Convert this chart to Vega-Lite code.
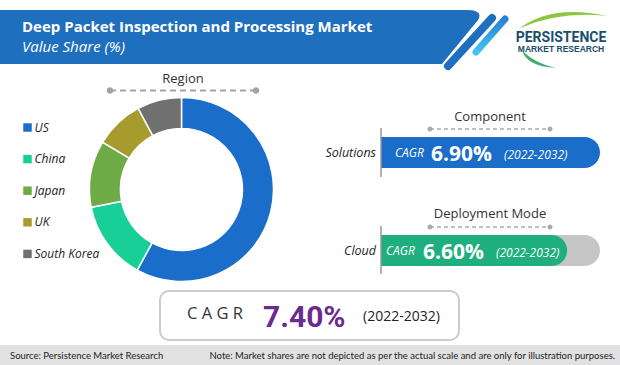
{
  "$schema": "https://vega.github.io/schema/vega-lite/v6.json",
  "width": 620,
  "height": 365,
  "autosize": {"type": "none"},
  "padding": 0,
  "background": "white",
  "config": {"view": {"stroke": null}},
  "datasets": {
    "overall": [{"label": "CAGR", "cagr": "7.40%", "period": "(2022-2032)"}],
    "region": [
      {"region": "US", "share": 58.0, "rank": 1},
      {"region": "China", "share": 13.9, "rank": 2},
      {"region": "Japan", "share": 11.7, "rank": 3},
      {"region": "UK", "share": 8.6, "rank": 4},
      {"region": "South Korea", "share": 7.8, "rank": 5}
    ],
    "segments": [
      {"segment": "Component", "name": "Solutions", "cagr": "6.90%", "period": "(2022-2032)", "share": 100},
      {"segment": "Deployment Mode", "name": "Cloud", "cagr": "6.60%", "period": "(2022-2032)", "share": 85}
    ]
  },
  "data": {"name": "overall"},
  "layer": [
    {"mark": {"type": "point", "shape": "M0,10H466Q484,10 478,20L442,64H0Z", "size": 4, "x": 0, "y": 0, "filled": true, "color": "#1f6fbf", "opacity": 1, "strokeWidth": 0}, "encoding": {}},
    {"mark": {"type": "point", "shape": "M492,18L448,66", "size": 4, "x": 0, "y": 0, "filled": false, "color": "#1f6fbf", "opacity": 1, "strokeWidth": 8, "strokeCap": "round"}, "encoding": {}},
    {"mark": {"type": "point", "shape": "M505,19L476,52", "size": 4, "x": 0, "y": 0, "filled": false, "opacity": 1, "strokeWidth": 7, "strokeCap": "round", "stroke": {"gradient": "linear", "x1": 0, "y1": 0, "x2": 0, "y2": 1, "stops": [{"offset": 0, "color": "#2683d6"}, {"offset": 1, "color": "#45c3ee"}]}}, "encoding": {}},
    {"mark": {"type": "text", "text": "Deep Packet Inspection and Processing Market", "x": 22, "y": 32, "align": "left", "baseline": "alphabetic", "font": "Open Sans", "fontWeight": "bold", "fontSize": 15, "color": "white"}, "encoding": {}},
    {"mark": {"type": "text", "text": "Value Share (%)", "x": 22, "y": 52, "align": "left", "baseline": "alphabetic", "font": "Open Sans", "fontStyle": "italic", "fontSize": 15, "color": "white"}, "encoding": {}},
    {"mark": {"type": "point", "shape": "M520,28Q552,4 607,16Q560,11 520,28Z", "size": 4, "x": 0, "y": 0, "filled": true, "color": "#8dc63f", "opacity": 1, "strokeWidth": 0}, "encoding": {}},
    {"mark": {"type": "point", "shape": "M522,50Q526,66 556,68Q532,62 522,50Z", "size": 4, "x": 0, "y": 0, "filled": true, "color": "#3fae6a", "opacity": 1, "strokeWidth": 0}, "encoding": {}},
    {"mark": {"type": "text", "text": "PERSISTENCE", "x": 561, "y": 42, "align": "center", "baseline": "alphabetic", "font": "Roboto", "fontWeight": "bold", "fontSize": 14, "color": "#1b4e6e"}, "encoding": {}},
    {"mark": {"type": "text", "text": "MARKET RESEARCH", "x": 561, "y": 52, "align": "center", "baseline": "alphabetic", "font": "Liberation Sans", "fontWeight": "bold", "fontSize": 8.5, "color": "#1b4e6e"}, "encoding": {}},
    {"mark": {"type": "text", "text": "Region", "x": 183, "y": 83, "align": "center", "baseline": "alphabetic", "font": "Open Sans", "fontSize": 13, "color": "#333333"}, "encoding": {}},
    {"mark": {"type": "point", "shape": "M0,0H146", "size": 4, "x": 110, "y": 90.5, "filled": false, "color": "#a3a3a3", "opacity": 1, "strokeWidth": 2, "strokeDash": [6, 4]}, "encoding": {}},
    {"mark": {"type": "point", "shape": "M-3.3,0a3.3,3.3 0 1,0 6.6,0a3.3,3.3 0 1,0 -6.6,0ZM142.7,0a3.3,3.3 0 1,0 6.6,0a3.3,3.3 0 1,0 -6.6,0Z", "size": 4, "x": 110, "y": 90.5, "filled": true, "color": "#a3a3a3", "opacity": 1, "strokeWidth": 0}, "encoding": {}},
    {
      "data": {"name": "region"},
      "mark": {"type": "arc", "x": 181.5, "y": 189.5, "outerRadius": 92, "innerRadius": 61, "stroke": "white", "strokeWidth": 1.5},
      "encoding": {
        "theta": {"field": "share", "type": "quantitative", "stack": true},
        "order": {"field": "rank", "type": "quantitative"},
        "color": {
          "field": "region", "type": "nominal",
          "scale": {"domain": ["US", "China", "Japan", "UK", "South Korea"], "range": ["#1a6dc8", "#18cf98", "#6eab46", "#a89b2e", "#707070"]},
          "legend": {"orient": "none", "legendX": 21.5, "legendY": 121.5, "direction": "vertical", "title": null, "symbolType": "square", "symbolSize": 72, "symbolStrokeWidth": 0, "symbolOpacity": 1, "labelFont": "Open Sans", "labelFontStyle": "italic", "labelFontSize": 12, "labelColor": "#222222", "rowPadding": 19.6, "labelOffset": 1, "padding": 0}
        }
      }
    },
    {"data": {"name": "segments"}, "transform": [{"filter": "datum.name === 'Cloud'"}],
     "mark": {"type": "rect", "y": 235, "y2": 266, "color": "#c6c6c6", "cornerRadiusTopRight": 15.5, "cornerRadiusBottomRight": 15.5},
     "encoding": {"x": {"datum": 100, "type": "quantitative", "scale": {"domain": [0, 100], "range": [381, 600]}, "axis": null}, "x2": {"datum": 0}}},
    {"data": {"name": "segments"}, "transform": [{"filter": "datum.name === 'Solutions'"}],
     "mark": {"type": "rect", "y": 137, "y2": 168, "color": "#1a6dc8", "cornerRadiusTopRight": 15.5, "cornerRadiusBottomRight": 15.5},
     "encoding": {"x": {"field": "share", "type": "quantitative", "scale": {"domain": [0, 100], "range": [381, 600]}, "axis": null}, "x2": {"datum": 0}}},
    {"data": {"name": "segments"}, "transform": [{"filter": "datum.name === 'Cloud'"}],
     "mark": {"type": "rect", "y": 235, "y2": 266, "color": "#1fae7e", "cornerRadiusTopRight": 15.5, "cornerRadiusBottomRight": 15.5},
     "encoding": {"x": {"field": "share", "type": "quantitative", "scale": {"domain": [0, 100], "range": [381, 600]}, "axis": null}, "x2": {"datum": 0}}},
    {"mark": {"type": "point", "shape": "M0,0V49", "size": 4, "x": 381, "y": 128, "filled": false, "color": "#9a9a9a", "opacity": 1, "strokeWidth": 1.5}, "encoding": {}},
    {"mark": {"type": "point", "shape": "M0,0V48", "size": 4, "x": 381, "y": 226, "filled": false, "color": "#9a9a9a", "opacity": 1, "strokeWidth": 1.5}, "encoding": {}},
    {"mark": {"type": "point", "shape": "M0,0H120", "size": 4, "x": 430, "y": 129, "filled": false, "color": "#aaaaaa", "opacity": 1, "strokeWidth": 1.5, "strokeDash": [4, 3]}, "encoding": {}},
    {"mark": {"type": "point", "shape": "M-2.5,0a2.5,2.5 0 1,0 5,0a2.5,2.5 0 1,0 -5,0ZM117.5,0a2.5,2.5 0 1,0 5,0a2.5,2.5 0 1,0 -5,0Z", "size": 4, "x": 430, "y": 129, "filled": true, "color": "#aaaaaa", "opacity": 1, "strokeWidth": 0}, "encoding": {}},
    {"mark": {"type": "point", "shape": "M0,0H120", "size": 4, "x": 430, "y": 227, "filled": false, "color": "#aaaaaa", "opacity": 1, "strokeWidth": 1.5, "strokeDash": [4, 3]}, "encoding": {}},
    {"mark": {"type": "point", "shape": "M-2.5,0a2.5,2.5 0 1,0 5,0a2.5,2.5 0 1,0 -5,0ZM117.5,0a2.5,2.5 0 1,0 5,0a2.5,2.5 0 1,0 -5,0Z", "size": 4, "x": 430, "y": 227, "filled": true, "color": "#aaaaaa", "opacity": 1, "strokeWidth": 0}, "encoding": {}},
    {"data": {"name": "segments"}, "transform": [{"filter": "datum.name === 'Solutions'"}],
     "mark": {"type": "text", "x": 490, "y": 121, "align": "center", "baseline": "alphabetic", "font": "Open Sans", "fontSize": 13, "color": "#333333"},
     "encoding": {"text": {"field": "segment"}}},
    {"data": {"name": "segments"}, "transform": [{"filter": "datum.name === 'Cloud'"}],
     "mark": {"type": "text", "x": 490, "y": 218, "align": "center", "baseline": "alphabetic", "font": "Open Sans", "fontSize": 13, "color": "#333333"},
     "encoding": {"text": {"field": "segment"}}},
    {"data": {"name": "segments"}, "transform": [{"filter": "datum.name === 'Solutions'"}],
     "mark": {"type": "text", "x": 376, "y": 157, "align": "right", "baseline": "alphabetic", "font": "Open Sans", "fontStyle": "italic", "fontSize": 12.5, "color": "#222222"},
     "encoding": {"text": {"field": "name"}}},
    {"data": {"name": "segments"}, "transform": [{"filter": "datum.name === 'Cloud'"}],
     "mark": {"type": "text", "x": 376, "y": 255, "align": "right", "baseline": "alphabetic", "font": "Open Sans", "fontStyle": "italic", "fontSize": 12.5, "color": "#222222"},
     "encoding": {"text": {"field": "name"}}},
    {"mark": {"type": "text", "text": "CAGR", "x": 395, "y": 157, "align": "left", "baseline": "alphabetic", "font": "Open Sans", "fontStyle": "italic", "fontSize": 12, "color": "white"}, "encoding": {}},
    {"mark": {"type": "text", "text": "CAGR", "x": 386, "y": 255, "align": "left", "baseline": "alphabetic", "font": "Open Sans", "fontStyle": "italic", "fontSize": 12, "color": "white"}, "encoding": {}},
    {"data": {"name": "segments"}, "transform": [{"filter": "datum.name === 'Solutions'"}],
     "mark": {"type": "text", "x": 431, "y": 161, "align": "left", "baseline": "alphabetic", "font": "Open Sans", "fontWeight": "bold", "fontSize": 21, "color": "white"},
     "encoding": {"text": {"field": "cagr"}}},
    {"data": {"name": "segments"}, "transform": [{"filter": "datum.name === 'Cloud'"}],
     "mark": {"type": "text", "x": 423, "y": 259, "align": "left", "baseline": "alphabetic", "font": "Open Sans", "fontWeight": "bold", "fontSize": 21, "color": "white"},
     "encoding": {"text": {"field": "cagr"}}},
    {"data": {"name": "segments"}, "transform": [{"filter": "datum.name === 'Solutions'"}],
     "mark": {"type": "text", "x": 504, "y": 158.5, "align": "left", "baseline": "alphabetic", "font": "Open Sans", "fontStyle": "italic", "fontSize": 12, "color": "white"},
     "encoding": {"text": {"field": "period"}}},
    {"data": {"name": "segments"}, "transform": [{"filter": "datum.name === 'Cloud'"}],
     "mark": {"type": "text", "x": 496, "y": 256.5, "align": "left", "baseline": "alphabetic", "font": "Open Sans", "fontStyle": "italic", "fontSize": 12, "color": "white"},
     "encoding": {"text": {"field": "period"}}},
    {"mark": {"type": "rect", "x": 160, "x2": 459, "y": 291, "y2": 340, "cornerRadius": 9, "fill": "white", "stroke": "#cccccc", "strokeWidth": 2}, "encoding": {}},
    {"mark": {"type": "text", "text": "C A G R", "x": 187, "y": 319, "align": "left", "baseline": "alphabetic", "font": "Open Sans", "fontSize": 16.5, "color": "#333333"}, "encoding": {}},
    {"mark": {"type": "text", "x": 263, "y": 327, "align": "left", "baseline": "alphabetic", "font": "Roboto", "fontWeight": "bold", "fontSize": 30, "color": "#6b2c91"}, "encoding": {"text": {"field": "cagr"}}},
    {"mark": {"type": "text", "x": 363, "y": 321, "align": "left", "baseline": "alphabetic", "font": "Open Sans", "fontSize": 14, "color": "#222222"}, "encoding": {"text": {"field": "period"}}},
    {"mark": {"type": "rect", "x": 0, "x2": 620, "y": 345, "y2": 365, "fill": "#e1e1e1"}, "encoding": {}},
    {"mark": {"type": "text", "text": "Source: Persistence Market Research", "x": 10, "y": 359, "align": "left", "baseline": "alphabetic", "font": "Lato", "fontSize": 9.5, "color": "#222222"}, "encoding": {}},
    {"mark": {"type": "text", "text": "Note: Market shares are not depicted as per the actual scale and are only for illustration purposes.", "x": 615, "y": 359, "align": "right", "baseline": "alphabetic", "font": "Lato", "fontSize": 9.5, "color": "#222222"}, "encoding": {}}
  ]
}
